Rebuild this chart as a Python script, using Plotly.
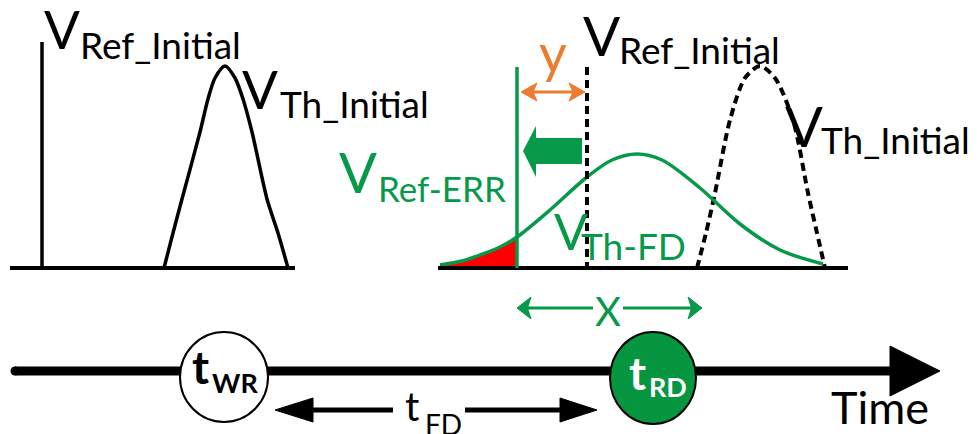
import plotly.graph_objects as go

# ---------------- data (pixel units) ----------------
# initial threshold-voltage distribution, left panel (x, height above baseline)
th_init_left_x = [164, 173, 182, 200, 208, 215, 225, 235, 243, 252, 267, 278, 288]
th_init_left_h = [0, 35, 69, 136, 169, 190, 202, 190, 169, 136, 69, 35, 0]
# initial distribution, right panel (dashed)
th_init_right_x = [697, 706, 715, 730, 745, 760, 775, 793, 808, 817, 825]
th_init_right_h = [0, 35, 75, 148, 190, 202, 190, 148, 75, 35, 0]
# distribution after fault duration (green)
th_fd_x = [440, 462, 480, 500, 517, 550, 587, 612, 637, 662, 700, 740, 780, 823]
th_fd_h = [3, 7, 13, 21, 31, 58, 91, 108, 114, 108, 80, 44, 18, 4]
# reference voltage positions
v_ref_initial_left = 42
v_ref_initial_right = 587
v_ref_err = 517
# time-axis events
t_wr = 224
t_rd = 653

BASE = 268          # baseline of the voltage panels (px from top)
TL_Y = 371          # time line
BLACK = "#000000"
GREEN = "#07994A"
GREEN_FILL = "#06963F"
ORANGE = "#EC7C30"
RED = "#FF0000"
FONT = "Lato"

fig = go.Figure()

def ypix(h):
    return [BASE - v for v in h]

# red error area under the green curve, left of V_Ref-ERR
red_x = [x for x in th_fd_x if x <= v_ref_err]
red_h = th_fd_h[:len(red_x)]
fig.add_trace(go.Scatter(
    x=red_x + [v_ref_err, red_x[0]], y=ypix(red_h) + [BASE, BASE],
    fill="toself", fillcolor=RED, line=dict(color=RED, width=0),
    mode="lines", hoverinfo="skip"))

fig.add_trace(go.Scatter(x=th_init_left_x, y=ypix(th_init_left_h), mode="lines",
                         line=dict(color=BLACK, width=3.5, shape="spline", smoothing=0.8),
                         hoverinfo="skip"))
fig.add_trace(go.Scatter(x=th_init_right_x, y=ypix(th_init_right_h), mode="lines",
                         line=dict(color=BLACK, width=4, dash="8px,5px",
                                   shape="spline", smoothing=0.8),
                         hoverinfo="skip"))
fig.add_trace(go.Scatter(x=th_fd_x, y=ypix(th_fd_h), mode="lines",
                         line=dict(color=GREEN, width=3.5, shape="spline", smoothing=0.9),
                         hoverinfo="skip"))

shapes = []
# baselines
shapes.append(dict(type="line", x0=10, x1=295, y0=BASE, y1=BASE, line=dict(color=BLACK, width=4)))
shapes.append(dict(type="line", x0=438, x1=848, y0=BASE, y1=BASE, line=dict(color=BLACK, width=4)))
# reference lines
shapes.append(dict(type="line", x0=v_ref_initial_left, x1=v_ref_initial_left, y0=42, y1=BASE,
                   line=dict(color=BLACK, width=3.5)))
shapes.append(dict(type="line", x0=v_ref_err, x1=v_ref_err, y0=67, y1=BASE,
                   line=dict(color=GREEN, width=3.5)))
shapes.append(dict(type="line", x0=v_ref_initial_right, x1=v_ref_initial_right, y0=67, y1=BASE,
                   line=dict(color=BLACK, width=4, dash="8px,5px")))

def tri(tip_x, base_x, yc, half, color):
    return dict(type="path",
                path=f"M {tip_x},{yc} L {base_x},{yc-half} L {base_x},{yc+half} Z",
                fillcolor=color, line=dict(color=color, width=1))

def stealth(tip_x, base_x, yc, half, color):
    notch = base_x + (tip_x - base_x) * 0.25
    return dict(type="path",
                path=f"M {tip_x},{yc} L {base_x},{yc-half} L {notch},{yc} L {base_x},{yc+half} Z",
                fillcolor=color, line=dict(color=color, width=1))

# orange "y" double arrow
shapes.append(dict(type="line", x0=528, x1=578, y0=92, y1=92, line=dict(color=ORANGE, width=3)))
shapes.append(stealth(521, 537, 92, 9, ORANGE))
shapes.append(stealth(585, 569, 92, 9, ORANGE))

# thick green shift arrow
shapes.append(dict(type="path",
                   path="M 582,138 L 536,138 L 536,126 L 523,151 L 536,177 L 536,164 L 582,164 Z",
                   fillcolor=GREEN, line=dict(color=GREEN, width=0)))

# green "x" double arrow
shapes.append(dict(type="line", x0=525, x1=593, y0=308, y1=308, line=dict(color=GREEN, width=3)))
shapes.append(dict(type="line", x0=623, x1=695, y0=308, y1=308, line=dict(color=GREEN, width=3)))
shapes.append(stealth(517, 531, 308, 11, GREEN))
shapes.append(stealth(702, 688, 308, 11, GREEN))

# time line
shapes.append(dict(type="line", x0=15, x1=895, y0=TL_Y, y1=TL_Y, line=dict(color=BLACK, width=9)))
shapes.append(dict(type="circle", x0=10.5, x1=19.5, y0=TL_Y - 4.5, y1=TL_Y + 4.5,
                   fillcolor=BLACK, line=dict(width=0)))
shapes.append(tri(940, 890, TL_Y, 25, BLACK))

# t_FD double arrow
shapes.append(dict(type="line", x0=305, x1=393, y0=410, y1=410, line=dict(color=BLACK, width=5)))
shapes.append(dict(type="line", x0=465, x1=565, y0=410, y1=410, line=dict(color=BLACK, width=5)))
shapes.append(tri(275, 313, 410, 12, BLACK))
shapes.append(tri(597, 560, 410, 12, BLACK))

# event circles
shapes.append(dict(type="circle", x0=t_wr - 44, x1=t_wr + 44, y0=332, y1=422,
                   fillcolor="white", line=dict(color=BLACK, width=2)))
shapes.append(dict(type="circle", x0=t_rd - 43, x1=t_rd + 43, y0=332, y1=424,
                   fillcolor=GREEN_FILL, line=dict(color=BLACK, width=2)))

fig.update_layout(shapes=shapes)

annotations = []
def label(text, x, y, size, color, bold=False, xanchor="left"):
    if bold:
        text = f"<b>{text}</b>"
    annotations.append(dict(text=text, x=x, y=y, xref="x", yref="y", showarrow=False,
                            xanchor=xanchor, yanchor="middle", borderpad=0,
                            font=dict(family=FONT, size=size, color=color)))

# left panel
label("V", 43, 28, 53, BLACK)
label("Ref_Initial", 79, 44, 37, BLACK)
label("V", 241, 88, 53, BLACK)
label("Th_Initial", 279, 103, 37, BLACK)
# right panel
label("V", 582, 35, 55, BLACK)
label("Ref_Initial", 618, 49, 37, BLACK)
label("V", 784, 125, 56, BLACK)
label("Th_Initial", 820, 139, 37, BLACK)
label("V", 338, 171, 56, GREEN)
label("Ref-ERR", 377, 188, 35, GREEN)
label("V", 553, 231, 50, GREEN)
label("Th-FD", 580, 245, 37, GREEN)
label("y", 553, 52, 54, ORANGE, xanchor="center")
label("X", 608, 311, 40, GREEN, xanchor="center")
# time axis
label("t", 191, 366, 46, BLACK, bold=True)
label("WR", 211, 382, 27, BLACK, bold=True)
label("t", 628, 372, 46, "white", bold=True)
label("RD", 648, 386, 27, "white", bold=True)
label("t", 404, 406, 40, BLACK)
label("FD", 424, 424, 28, BLACK)
label("Time", 830, 407, 45, BLACK)

fig.update_layout(
    annotations=annotations,
    width=978, height=434,
    margin=dict(l=0, r=0, t=0, b=0),
    paper_bgcolor="white", plot_bgcolor="white",
    showlegend=False,
    xaxis=dict(range=[0, 978], visible=False, fixedrange=True),
    yaxis=dict(range=[434, 0], visible=False, fixedrange=True),
)

fig.write_html("out.html",
               config=dict(displayModeBar=False, staticPlot=True),
               post_script="document.body.style.margin='0';document.body.style.overflow='hidden';")
